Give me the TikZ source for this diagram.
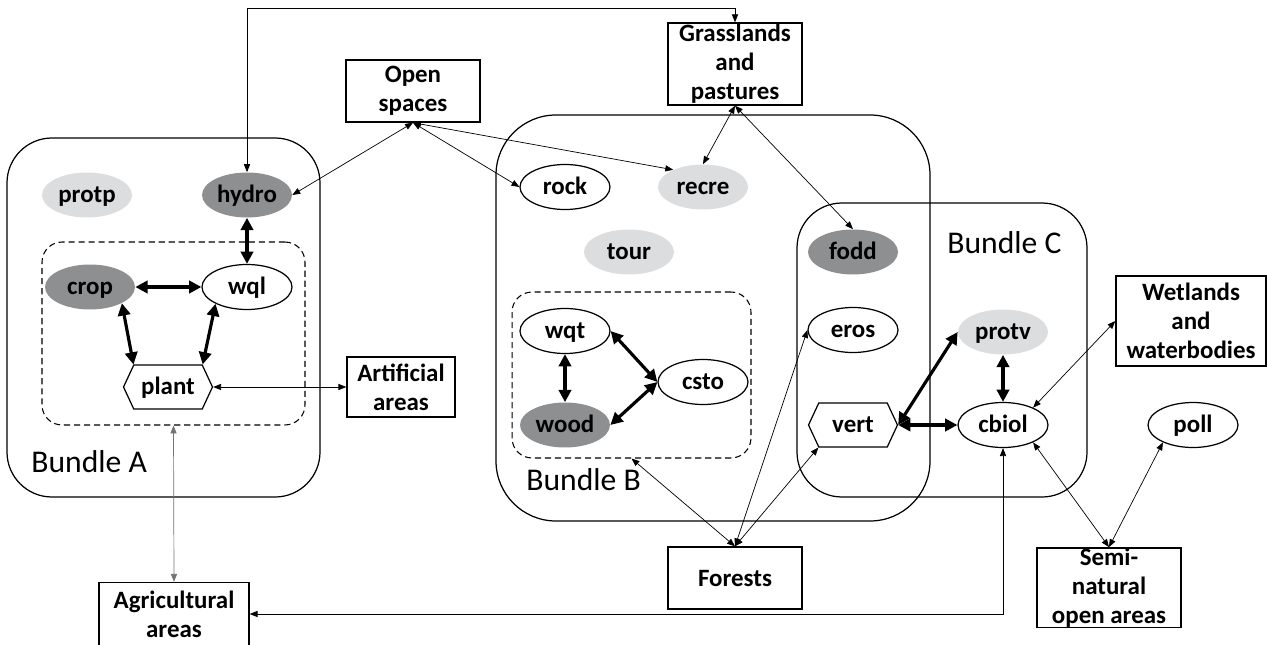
\documentclass[tikz,border=0pt]{standalone}
\usepackage{fontspec}
\setmainfont{Carlito}
\usetikzlibrary{arrows.meta,shapes.geometric,shapes.symbols}
\definecolor{darkfill}{HTML}{8E8F91}
\definecolor{lightfill}{HTML}{DCDDDF}

\begin{document}
\begin{tikzpicture}[x=0.02cm, y=-0.02cm,
  es/.style={ellipse, minimum width=1.8cm, minimum height=0.9cm, inner sep=0pt, text height=2.1ex, text depth=0.3ex, font=\fontsize{14.2}{16.5}\selectfont\bfseries},
  esw/.style={es, draw, line width=0.7pt},
  esd/.style={es, fill=darkfill},
  esl/.style={es, fill=lightfill},
  hexnode/.style={signal, signal to=west and east, signal pointer angle=130, draw, line width=0.7pt, minimum width=1.78cm, minimum height=0.88cm, inner sep=0pt, text height=2.1ex, text depth=0.3ex, font=\fontsize{14.2}{16.5}\selectfont\bfseries},
  landbox/.style={draw, line width=0.8pt, align=center, inner sep=0pt, font=\fontsize{14.2}{16.5}\selectfont\bfseries},
  bundle/.style={draw, line width=0.7pt},
  bundlelabel/.style={anchor=west, inner sep=0pt, font=\fontsize{18}{20}\selectfont},
  dashbox/.style={draw, line width=0.6pt, dash pattern=on 3.5pt off 2.2pt, rounded corners=0.4cm},
  strong/.style={{Triangle[length=7pt,width=7pt]}-{Triangle[length=7pt,width=7pt]}, line width=1.8pt},
  weak/.style={{Triangle[length=4.5pt,width=3.5pt]}-{Triangle[length=4.5pt,width=3.5pt]}, line width=0.4pt}]
\useasboundingbox (0,0) rectangle (1267,645);

%bundle outlines
\draw[bundle, rounded corners=0.9cm] (7,138) rectangle (320,497);
\draw[bundle, rounded corners=1.2cm] (496,115) rectangle (930,521);
\draw[bundle, rounded corners=0.9cm] (797,203) rectangle (1087,497);
\node[dashbox, minimum width=5.26cm, minimum height=3.66cm] (dashA) at (173.5,333.5) {};
\node[dashbox, minimum width=4.78cm, minimum height=3.32cm] (dashB) at (631.5,375) {};
\node[bundlelabel] (labA) at (31,462) {Bundle A}; \node[bundlelabel] (labB) at (526,480) {Bundle B}; \node[bundlelabel] (labC) at (947,243) {Bundle C};

%bundle A nodes
\node[esl] (protp) at (87,195) {protp}; \node[esd] (hydro) at (247,195) {hydro};
\node[esd] (crop) at (90,287) {crop}; \node[esw] (wql) at (247,287) {wql};
\node[hexnode] (plant) at (168,387) {plant};

%bundle B nodes
\node[esw] (rock) at (565,187) {rock}; \node[esl] (recre) at (703,187) {recre}; \node[esl] (tour) at (629,252) {tour};
\node[esw] (wqt) at (565,331) {wqt}; \node[esd] (wood) at (565,425) {wood}; \node[esw] (csto) at (703,382) {csto};

%bundle C nodes
\node[esd] (fodd) at (853,252) {fodd}; \node[esw] (eros) at (853,330) {eros}; \node[hexnode] (vert) at (853,425) {vert};
\node[esl] (protv) at (1003,332) {protv}; \node[esw] (cbiol) at (1003,425) {cbiol};
\node[esw] (poll) at (1193,425) {poll};

%land cover boxes
\node[landbox, minimum width=2.68cm, minimum height=1.24cm] (open) at (413,91) {Open\\spaces};
\node[landbox, minimum width=2.68cm, minimum height=1.64cm] (grass) at (735,64) {Grasslands\\and\\pastures};
\node[landbox, minimum width=2.16cm, minimum height=1.2cm] (art) at (401,387) {Artificial\\areas};
\node[landbox, minimum width=2.68cm, minimum height=1.24cm] (forest) at (735,578) {Forests};
\node[landbox, minimum width=3cm, minimum height=1.26cm] (agri) at (174,614) {Agricultural\\areas};
\node[landbox, minimum width=3cm, minimum height=1.8cm] (wet) at (1191,321) {Wetlands\\and\\waterbodies};
\node[landbox, minimum width=2.88cm, minimum height=1.58cm] (semi) at (1109,587.5) {Semi-\\natural\\open areas};

%strong links
\draw[strong] (hydro.south) -- (wql.north);
\draw[strong] (crop.east) -- (wql.west);
\draw[strong] (crop.-27) -- (plant.147);
\draw[strong] (wql.208) -- (plant.33);
\draw[strong] (wqt.south) -- (wood.north);
\draw[strong] (wqt.east) -- (csto.west);
\draw[strong] (wood.east) -- (csto.west);
\draw[strong] (vert.east) -- (protv.west);
\draw[strong] (vert.east) -- (cbiol.west);
\draw[strong] (protv.south) -- (cbiol.north);

%weak links
\coordinate (toprun) at (735,8);
\draw[weak] (hydro.north) |- (toprun) -- (grass.north);
\draw[weak] (open.south) -- (hydro.east);
\draw[weak] (open.south) -- (rock.west);
\draw[weak] (open.south) -- (recre.150);
\draw[weak] (grass.south) -- (recre.north);
\draw[weak] (grass.south) -- (fodd.north);
\draw[weak] (plant.east) -- (art.west);
\draw[weak, draw=black!55] (agri.north) -- (dashA.south);
\draw[weak] (forest.north) -- (dashB.south);
\draw[weak] (forest.north) -- (eros.west);
\draw[weak] (forest.north) -- (vert.213);
\draw[weak] (cbiol.south) |- (agri.east);
\draw[weak] (wet.west) -- (cbiol.30);
\draw[weak] (cbiol.-30) -- (semi.north);
\draw[weak] (poll.-150) -- (semi.north);

\end{tikzpicture}
\end{document}
